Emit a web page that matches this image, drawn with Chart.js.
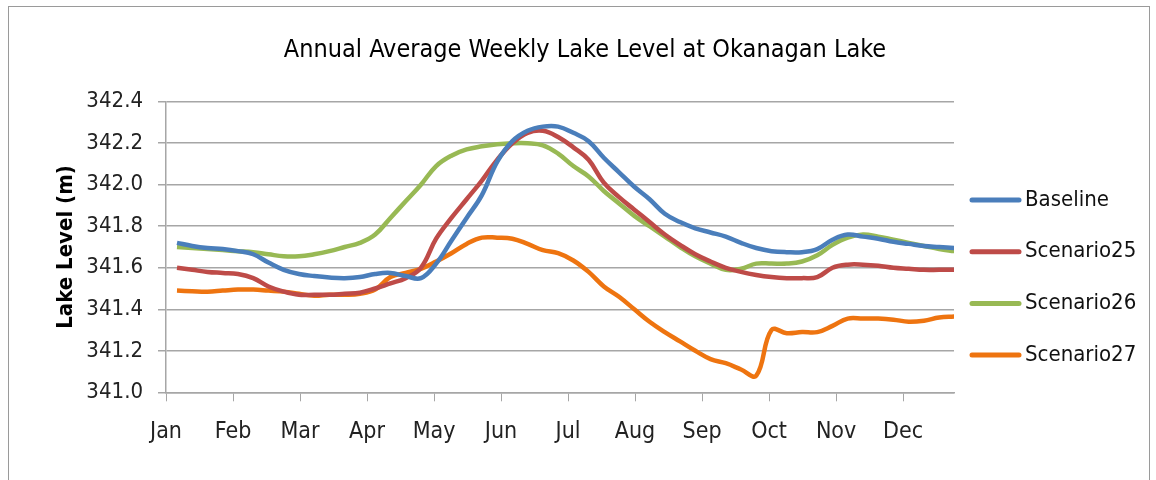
<!DOCTYPE html>
<html>
<head>
<meta charset="utf-8">
<script src="https://cdn.jsdelivr.net/npm/chart.js@4"></script>
<style>
  html, body { margin: 0; padding: 0; background: #fff; }
  #wrap { width: 1156px; height: 480px; }
</style>
</head>
<body>
<div id="wrap"><canvas id="lakeChart" width="1156" height="480"></canvas></div>
<script>
// month labels on the x axis
const months = ['Jan', 'Feb', 'Mar', 'Apr', 'May', 'Jun', 'Jul', 'Aug', 'Sep', 'Oct', 'Nov', 'Dec'];
const weeks = Array.from({ length: 52 }, (_, i) => i + 1);

// weekly lake levels (m)
const baseline = [341.72, 341.705, 341.695, 341.69, 341.68, 341.665, 341.625, 341.59, 341.57, 341.56, 341.553, 341.55, 341.555,
  341.57, 341.575, 341.56, 341.55, 341.62, 341.73, 341.84, 341.95, 342.11, 342.21, 342.26, 342.28, 342.28,
  342.25, 342.21, 342.13, 342.06, 341.99, 341.93, 341.86, 341.82, 341.79, 341.77, 341.75, 341.72, 341.695,
  341.68, 341.675, 341.675, 341.69, 341.735, 341.76, 341.75, 341.74, 341.725, 341.715, 341.705, 341.70, 341.695];
const scenario25 = [341.60, 341.59, 341.58, 341.575, 341.57, 341.55, 341.51, 341.485, 341.47, 341.47, 341.47, 341.475, 341.48,
  341.50, 341.525, 341.55, 341.60, 341.74, 341.84, 341.93, 342.02, 342.12, 342.20, 342.25, 342.26, 342.23,
  342.18, 342.12, 342.01, 341.94, 341.88, 341.82, 341.76, 341.71, 341.665, 341.63, 341.60, 341.58, 341.565,
  341.555, 341.55, 341.55, 341.555, 341.60, 341.615, 341.615, 341.61, 341.60, 341.595, 341.59, 341.59, 341.59];
const scenario26 = [341.70, 341.695, 341.69, 341.685, 341.68, 341.675, 341.665, 341.655, 341.655, 341.665, 341.68, 341.70, 341.72,
  341.76, 341.84, 341.92, 342.00, 342.09, 342.14, 342.17, 342.185, 342.195, 342.20, 342.20, 342.19, 342.15,
  342.09, 342.04, 341.97, 341.91, 341.85, 341.80, 341.75, 341.70, 341.655, 341.62, 341.59, 341.595, 341.62,
  341.62, 341.62, 341.63, 341.66, 341.71, 341.745, 341.76, 341.75, 341.735, 341.72, 341.705, 341.69, 341.68];
const scenario27 = [341.49, 341.487, 341.485, 341.49, 341.495, 341.495, 341.49, 341.485, 341.475, 341.465, 341.47, 341.47, 341.475,
  341.495, 341.555, 341.575, 341.595, 341.63, 341.67, 341.715, 341.745, 341.745, 341.74, 341.715, 341.685, 341.67,
  341.635, 341.58, 341.51, 341.46, 341.40, 341.34, 341.29, 341.245, 341.20, 341.16, 341.14, 341.11, 341.08,
  341.30, 341.285, 341.29, 341.29, 341.32, 341.355, 341.355, 341.355, 341.35, 341.34, 341.345, 341.36, 341.365];

const seriesNames = ['Baseline', 'Scenario25', 'Scenario26', 'Scenario27'];
const seriesColors = ['#4a7ebb', '#be4b48', '#98b954', '#ee7410'];
const chartTitle = 'Annual Average Weekly Lake Level at Okanagan Lake';

// week number -> position on the month axis
const FIRST_WEEK = 0.164, WEEK_STEP = 0.2275;
const toPoints = vals => vals.map((v, i) => ({ x: FIRST_WEEK + (weeks[i] - 1) * WEEK_STEP, y: v }));

const FONT = "'DejaVu Sans Condensed', 'Liberation Sans Narrow', sans-serif";
const GRID = '#a6a6a6';

// white page, thin frame and the title centred on the whole picture
const frame = {
    id: 'frame',
    beforeDraw(chart) {
        const c = chart.ctx;
        c.save();
        c.fillStyle = '#fff';
        c.fillRect(0, 0, chart.width, chart.height);
        c.strokeStyle = '#9a9a9a';
        c.lineWidth = 1;
        c.strokeRect(8.5, 6.5, 1141, 520);
        c.fillStyle = '#000';
        c.font = '25px ' + FONT;
        c.textAlign = 'center';
        c.textBaseline = 'middle';
        c.fillText(chartTitle, 585, 50);
        c.restore();
    }
};

// legend on the right, drawn by hand so it sits where the original one does
const sideLegend = {
    id: 'sideLegend',
    afterDraw(chart) {
        const c = chart.ctx;
        c.save();
        c.font = '22px ' + FONT;
        c.textBaseline = 'middle';
        chart.data.datasets.forEach((ds, i) => {
            const y = 200 + i * 51.7;
            c.strokeStyle = ds.borderColor;
            c.lineWidth = 5;
            c.lineCap = 'round';
            c.beginPath();
            c.moveTo(972, y);
            c.lineTo(1019, y);
            c.stroke();
            c.fillStyle = '#111';
            c.fillText(ds.label, 1025, y);
        });
        c.restore();
    }
};

new Chart(document.getElementById('lakeChart'), {
    type: 'line',
    data: {
        datasets: seriesNames.map((name, i) => ({
            label: name,
            data: toPoints([baseline, scenario25, scenario26, scenario27][i]),
            borderColor: seriesColors[i],
            backgroundColor: seriesColors[i],
            borderWidth: 4.5,
            pointRadius: 0,
            tension: 0.4,
            fill: false
        }))
    },
    options: {
        responsive: false,
        animation: false,
        layout: { padding: { left: 0, right: 202, top: 101.7, bottom: 0 } },
        plugins: {
            legend: { display: false },
            tooltip: { enabled: false },
            title: { display: false }
        },
        scales: {
            x: {
                type: 'linear',
                min: 0,
                max: 11.76,
                afterFit: s => { s.height = 87.7; },
                grid: { display: true, drawOnChartArea: false, drawTicks: true, tickLength: 9, color: GRID },
                border: { display: true, color: GRID, width: 1.5 },
                ticks: {
                    stepSize: 1,
                    includeBounds: false,
                    autoSkip: false,
                    maxRotation: 0,
                    padding: 17,
                    color: '#222',
                    font: { family: FONT, size: 23 },
                    callback: v => months[v] || ''
                }
            },
            y: {
                min: 341.0,
                max: 342.4,
                afterFit: s => { s.width = 166; },
                grid: { color: GRID, lineWidth: 1.5, tickLength: 8 },
                border: { display: true, color: GRID, width: 1.5 },
                ticks: {
                    stepSize: 0.2,
                    padding: 15,
                    color: '#222',
                    font: { family: FONT, size: 22 },
                    callback: v => v.toFixed(1)
                },
                title: {
                    display: true,
                    text: 'Lake Level (m)',
                    color: '#000',
                    font: { family: FONT, size: 22, weight: 'bold' },
                    padding: { top: 53, bottom: 0 }
                }
            }
        }
    },
    plugins: [frame, sideLegend]
});
</script>
</body>
</html>
